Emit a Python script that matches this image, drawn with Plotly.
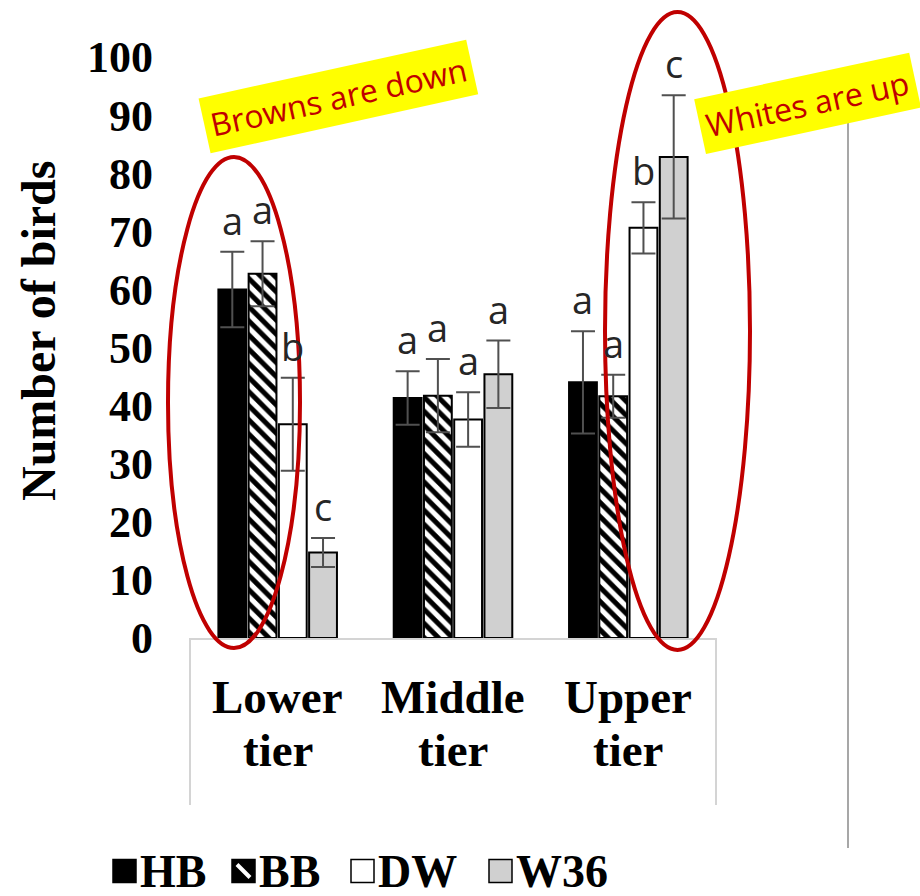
import plotly.graph_objects as go

# ---- data -------------------------------------------------------------
categories = ["Lower tier", "Middle tier", "Upper tier"]
series_names = ["HB", "BB", "DW", "W36"]

hb_mean = [60.0, 41.3, 44.0]
hb_err = [6.5, 4.6, 8.8]
bb_mean = [62.7, 41.7, 41.6]
bb_err = [5.6, 6.3, 3.7]
dw_mean = [36.8, 37.6, 70.6]
dw_err = [8.0, 4.7, 4.4]
w36_mean = [14.7, 45.4, 82.8]
w36_err = [2.5, 5.8, 10.6]

hb_letters = ["a", "a", "a"]
bb_letters = ["a", "a", "a"]
dw_letters = ["b", "a", "b"]
w36_letters = ["c", "a", "c"]

y_ticks = [0, 10, 20, 30, 40, 50, 60, 70, 80, 90, 100]

means = [hb_mean, bb_mean, dw_mean, w36_mean]
errors = [hb_err, bb_err, dw_err, w36_err]
letters = [hb_letters, bb_letters, dw_letters, w36_letters]

# ---- styling ----------------------------------------------------------
W, H = 920, 896
M_L, M_R, M_T, M_B = 190, 204, 57, 258
PW, PH = W - M_L - M_R, H - M_T - M_B
BARGAP = 0.31
SERIF = "Liberation Serif"
SANS = "Open Sans"
RED = "#c00000"

fills = {
    "HB": dict(color="black"),
    "BB": dict(color="black",
               pattern=dict(shape="\\", fgcolor="white", bgcolor="black",
                            size=10, solidity=0.5, fillmode="replace")),
    "DW": dict(color="white"),
    "W36": dict(color="#d0d0d0"),
}


def px(xp):
    return (xp - M_L) / PW


def py(yp):
    return (H - M_B - yp) / PH


fig = go.Figure()
for name, m, e in zip(series_names, means, errors):
    fig.add_trace(go.Bar(
        x=categories, y=m, name=name,
        marker=dict(line=dict(color="black", width=2), **fills[name]),
        error_y=dict(type="data", array=e, color="#505050",
                     thickness=2, width=12),
        showlegend=False,
    ))

annotations = []
# significance letters above each error bar
slot = (1 - BARGAP) / len(series_names)
for j, (m, e, lt) in enumerate(zip(means, errors, letters)):
    for i in range(len(categories)):
        annotations.append(dict(
            x=i + (j - 1.5) * slot, y=m[i] + e[i], xref="x", yref="y",
            text=lt[i], showarrow=False, xanchor="center", yanchor="middle",
            yshift=32, font=dict(family=SANS, size=38, color="#262626"),
        ))

# two-line category labels under the axis
for i, cat in enumerate(categories):
    for k, word in enumerate(cat.split(" ")):
        annotations.append(dict(
            x=i, y=py(697 + 53 * k), xref="x", yref="paper", text=word,
            showarrow=False, xanchor="center", yanchor="middle",
            font=dict(family=SERIF, size=47, color="black", weight="bold"),
        ))

# y-axis title
annotations.append(dict(
    x=px(38), y=py(331), xref="paper", yref="paper", text="Number of birds",
    showarrow=False, textangle=-90, xanchor="center", yanchor="middle",
    font=dict(family=SERIF, size=48, color="black", weight="bold"),
))

# highlighted call-outs
annotations.append(dict(
    x=px(338), y=py(97), xref="paper", yref="paper", text="Browns are down",
    showarrow=False, textangle=-12.4, bgcolor="#ffff00", borderpad=6,
    xanchor="center", yanchor="middle",
    font=dict(family=SANS, size=32, color=RED),
))
annotations.append(dict(
    x=px(807), y=py(103), xref="paper", yref="paper", text="Whites are up",
    showarrow=False, textangle=-12.2, bgcolor="#ffff00", borderpad=6,
    xanchor="center", yanchor="middle",
    font=dict(family=SANS, size=32, color=RED),
))

shapes = [
    # category box below the axis
    dict(type="line", xref="paper", yref="paper", x0=0, x1=0, y0=0,
         y1=py(805), line=dict(color="#d4d4d4", width=2)),
    dict(type="line", xref="paper", yref="paper", x0=1, x1=1, y0=0,
         y1=py(805), line=dict(color="#d4d4d4", width=2)),
    # separator line on the right
    dict(type="line", xref="paper", yref="paper", x0=px(848), x1=px(848),
         y0=py(68), y1=py(848), line=dict(color="#8a8a8a", width=1.5)),
    # red ellipses
    dict(type="circle", xref="paper", yref="paper", x0=px(168), x1=px(300),
         y0=py(648), y1=py(157), line=dict(color=RED, width=4)),
    dict(type="circle", xref="paper", yref="paper", x0=px(605), x1=px(750),
         y0=py(650), y1=py(12), line=dict(color=RED, width=4)),
]

# legend row
legend_x = {"HB": 113, "BB": 232, "DW": 351, "W36": 489}
SQ = 23
LEG_Y = 871
for name in series_names:
    x0 = legend_x[name]
    fc = fills[name]["color"]
    shapes.append(dict(type="rect", xref="paper", yref="paper",
                       x0=px(x0), x1=px(x0 + SQ), y0=py(LEG_Y + SQ / 2),
                       y1=py(LEG_Y - SQ / 2), fillcolor=fc,
                       line=dict(color="black", width=1.5)))
    if "pattern" in fills[name]:
        shapes.append(dict(type="line", xref="paper", yref="paper",
                           x0=px(x0 + 5), x1=px(x0 + SQ - 5),
                           y0=py(LEG_Y - SQ / 2 + 5), y1=py(LEG_Y + SQ / 2 - 5),
                           line=dict(color="white", width=4)))
    annotations.append(dict(
        x=px(x0 + SQ + 2), y=py(LEG_Y), xref="paper", yref="paper",
        text=name, showarrow=False, xanchor="left", yanchor="middle",
        font=dict(family=SERIF, size=46, color="black", weight="bold"),
    ))

fig.update_layout(
    width=W, height=H,
    margin=dict(l=M_L, r=M_R, t=M_T, b=M_B, pad=0),
    paper_bgcolor="white", plot_bgcolor="white",
    barmode="group", bargap=BARGAP, bargroupgap=0.08,
    annotations=annotations, shapes=shapes,
    showlegend=False,
)
fig.update_xaxes(
    type="category", range=[-0.5, 2.5], showticklabels=False,
    showline=True, linecolor="#d4d4d4", linewidth=2,
    showgrid=False, ticks="",
)
fig.update_yaxes(
    range=[0, 100], tickvals=y_ticks,
    tickfont=dict(family=SERIF, size=44, color="black", weight="bold"),
    showgrid=False, zeroline=False, showline=False, ticks="",
    ticklabelstandoff=36,
)

fig.write_html("out.html")
